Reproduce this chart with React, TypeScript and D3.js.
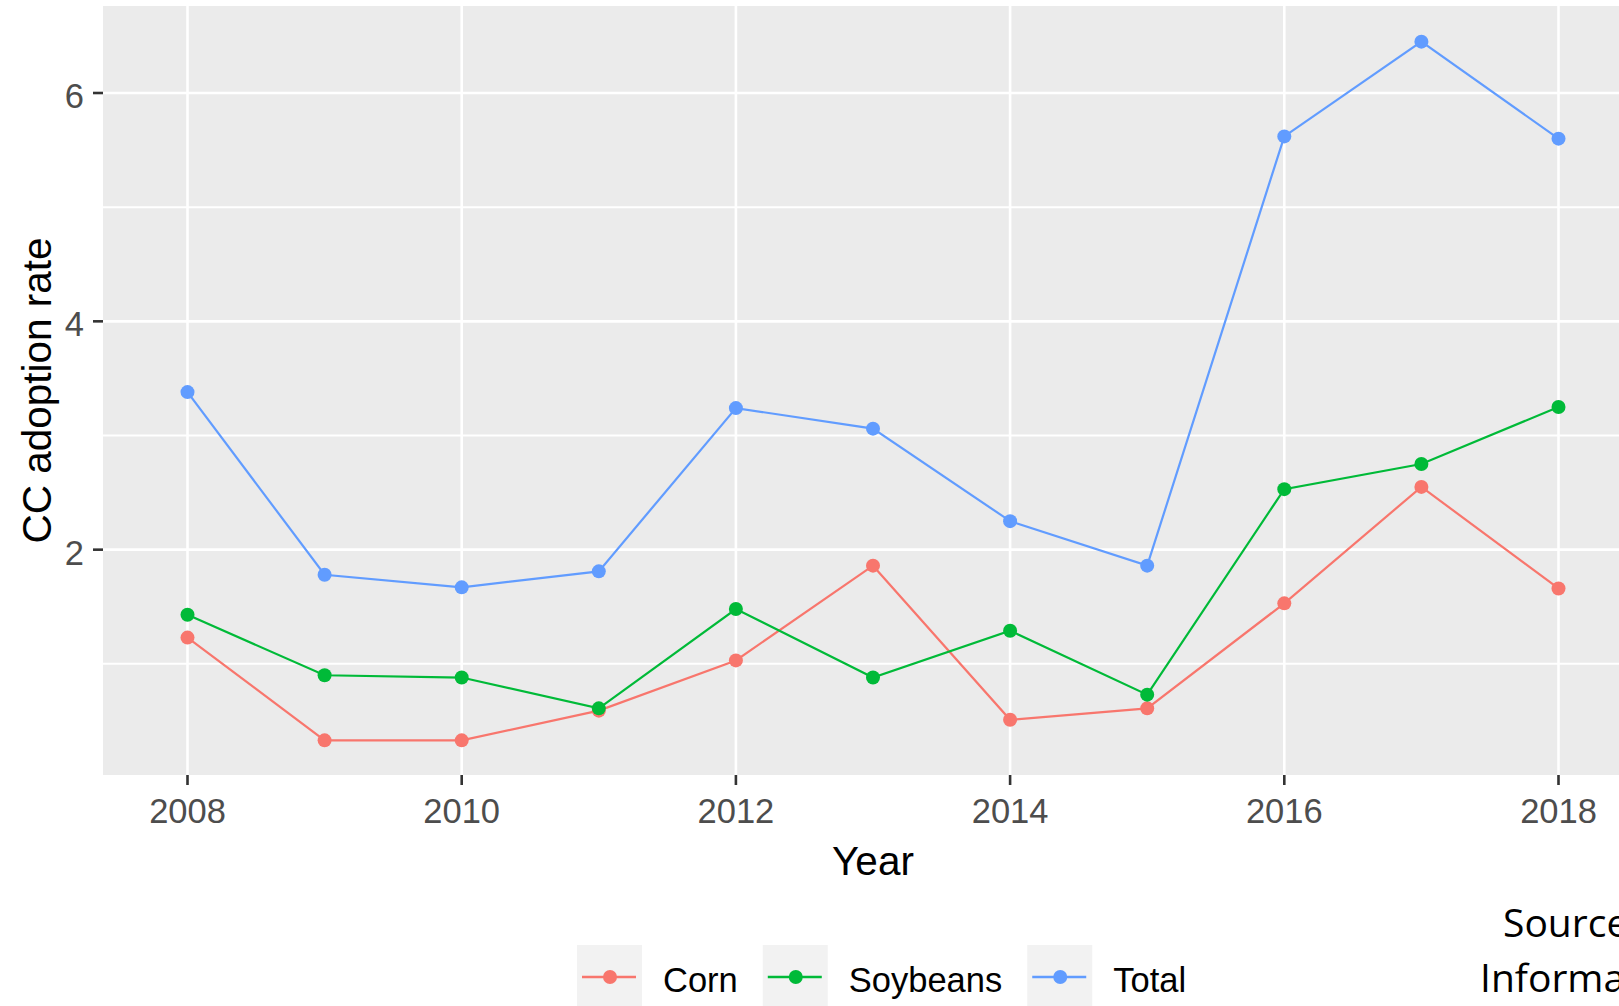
import React, { useEffect, useRef } from 'react';
import * as d3 from 'd3';

// values
const years = [2008, 2009, 2010, 2011, 2012, 2013, 2014, 2015, 2016, 2017, 2018];
const corn = [1.23, 0.33, 0.33, 0.59, 1.03, 1.86, 0.51, 0.61, 1.53, 2.55, 1.66];
const soybeans = [1.43, 0.90, 0.88, 0.61, 1.48, 0.88, 1.29, 0.73, 2.53, 2.75, 3.25];
const total = [3.38, 1.78, 1.67, 1.81, 3.24, 3.06, 2.25, 1.86, 5.62, 6.45, 5.60];

const seriesNames = ['Corn', 'Soybeans', 'Total'];
const seriesColors = ['#F8766D', '#00BA38', '#619CFF'];
const xTicks = [2008, 2010, 2012, 2014, 2016, 2018];
const yMajor = [2, 4, 6];
const yMinor = [1, 3, 5];

const W = 1619, H = 1006;
const panel = { left: 103, right: 1643, top: 6, bottom: 775 };

const App = () => {
    const ref = useRef(null);

    useEffect(() => {
        const svg = d3.select(ref.current);
        svg.selectAll('*').remove();

        const x = d3.scaleLinear().domain([2008, 2018]).range([187.5, 1558.5]);
        const y = d3.scaleLinear().domain([0, 6]).range([778, 93]);

        svg.append('rect')
            .attr('x', panel.left).attr('y', panel.top)
            .attr('width', panel.right - panel.left)
            .attr('height', panel.bottom - panel.top)
            .attr('fill', '#EBEBEB');

        const grid = svg.append('g');
        grid.selectAll('.minor').data(yMinor).enter().append('line')
            .attr('x1', panel.left).attr('x2', panel.right)
            .attr('y1', d => y(d)).attr('y2', d => y(d))
            .attr('stroke', '#fff').attr('stroke-width', 2);
        grid.selectAll('.majy').data(yMajor).enter().append('line')
            .attr('x1', panel.left).attr('x2', panel.right)
            .attr('y1', d => y(d)).attr('y2', d => y(d))
            .attr('stroke', '#fff').attr('stroke-width', 2.6);
        grid.selectAll('.majx').data(xTicks).enter().append('line')
            .attr('y1', panel.top).attr('y2', panel.bottom)
            .attr('x1', d => x(d)).attr('x2', d => x(d))
            .attr('stroke', '#fff').attr('stroke-width', 2.6);

        const data = [corn, soybeans, total].map((vals, i) => ({
            name: seriesNames[i],
            color: seriesColors[i],
            values: years.map((yr, j) => ({ year: yr, v: vals[j] }))
        }));

        const line = d3.line()
            .x(d => x(d.year))
            .y(d => y(d.v));

        const series = svg.selectAll('.series').data(data).enter().append('g');
        series.append('path')
            .attr('fill', 'none')
            .attr('stroke', d => d.color)
            .attr('stroke-width', 2.2)
            .attr('d', d => line(d.values));
        series.each(function (d) {
            d3.select(this).selectAll('circle').data(d.values).enter().append('circle')
                .attr('cx', p => x(p.year))
                .attr('cy', p => y(p.v))
                .attr('r', 7)
                .attr('fill', d.color);
        });

        // axes
        const font = '"Liberation Sans", Arial, sans-serif';
        svg.selectAll('.xtick').data(xTicks).enter().append('line')
            .attr('x1', d => x(d)).attr('x2', d => x(d))
            .attr('y1', panel.bottom).attr('y2', panel.bottom + 10)
            .attr('stroke', '#333').attr('stroke-width', 2.6);
        svg.selectAll('.xlab').data(xTicks).enter().append('text')
            .attr('x', d => x(d)).attr('y', 823)
            .attr('text-anchor', 'middle')
            .attr('font-family', font).attr('font-size', 34.5)
            .attr('fill', '#4D4D4D')
            .text(d => d);
        svg.selectAll('.ytick').data(yMajor).enter().append('line')
            .attr('x1', panel.left - 10).attr('x2', panel.left)
            .attr('y1', d => y(d)).attr('y2', d => y(d))
            .attr('stroke', '#333').attr('stroke-width', 2.6);
        svg.selectAll('.ylab').data(yMajor).enter().append('text')
            .attr('x', 84).attr('y', d => y(d) + 15)
            .attr('text-anchor', 'end')
            .attr('font-family', font).attr('font-size', 34.5)
            .attr('fill', '#4D4D4D')
            .text(d => d);

        svg.append('text')
            .attr('x', (panel.left + panel.right) / 2).attr('y', 875)
            .attr('text-anchor', 'middle')
            .attr('font-family', font).attr('font-size', 40.5)
            .attr('fill', '#000')
            .text('Year');
        svg.append('text')
            .attr('transform', `translate(51,${(panel.top + panel.bottom) / 2}) rotate(-90)`)
            .attr('text-anchor', 'middle')
            .attr('font-family', font).attr('font-size', 40.5)
            .attr('fill', '#000')
            .text('CC adoption rate');

        // legend
        let lx = 577;
        data.forEach(d => {
            const g = svg.append('g').attr('transform', `translate(${lx},945)`);
            g.append('rect').attr('width', 65).attr('height', 64).attr('fill', '#F2F2F2');
            g.append('line').attr('x1', 5).attr('x2', 59).attr('y1', 32).attr('y2', 32)
                .attr('stroke', d.color).attr('stroke-width', 2.6);
            g.append('circle').attr('cx', 33).attr('cy', 32).attr('r', 7).attr('fill', d.color);
            const t = g.append('text').attr('x', 86).attr('y', 47)
                .attr('font-family', font).attr('font-size', 34.5)
                .attr('fill', '#000')
                .text(d.name);
            const len = t.node().getComputedTextLength();
            lx = lx + 86 + len + 25;
        });

        // source note, cropped at the right edge as in the original
        const srcFont = '"Open Sans", "Noto Sans", sans-serif';
        svg.append('text').attr('x', 1503).attr('y', 937)
            .attr('font-family', srcFont).attr('font-size', 39).attr('fill', '#000')
            .text('Source:');
        svg.append('text').attr('x', 1480).attr('y', 992)
            .attr('font-family', srcFont).attr('font-size', 39).attr('fill', '#000')
            .text('Information');
    }, []);

    return (
        <svg ref={ref} width={W} height={H}
            style={{ position: 'absolute', left: 0, top: 0, background: '#fff', overflow: 'hidden' }} />
    );
};

export default App;
